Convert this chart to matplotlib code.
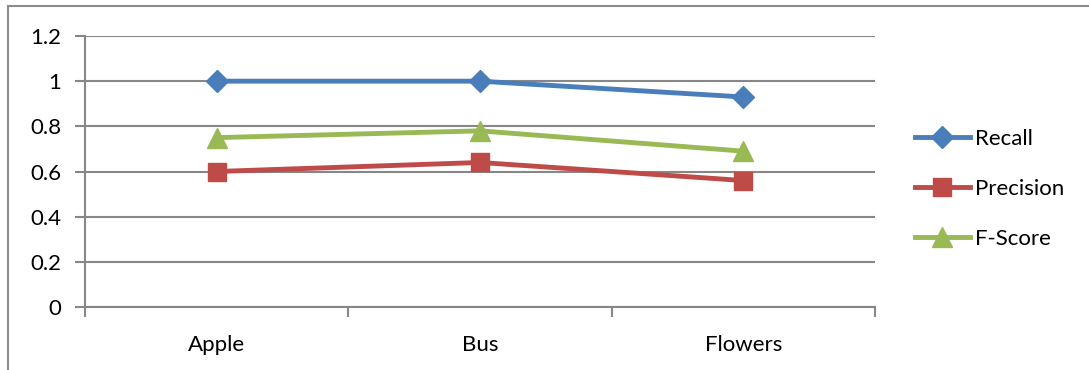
import matplotlib.pyplot as plt
from matplotlib.lines import Line2D

categories = ['Apple', 'Bus', 'Flowers']
recall = [1.0, 1.0, 0.93]
precision = [0.60, 0.64, 0.56]
f_score = [0.75, 0.78, 0.69]

plt.rcParams['font.family'] = ['Lato', 'DejaVu Sans']

fig = plt.figure(figsize=(10.89, 3.70), dpi=100)
ax = fig.add_axes([85 / 1089, 1 - 307 / 370, 790 / 1089, 271 / 370])

x = range(len(categories))
ax.plot(x, recall, color='#4A7EBB', lw=3.5, marker='D', ms=11, label='Recall')
ax.plot(x, precision, color='#BE4B48', lw=3.5, marker='s', ms=13, label='Precision')
ax.plot(x, f_score, color='#98B954', lw=3.5, marker='^', ms=14, label='F-Score')

grid_col = '#878787'
ax.set_xlim(-0.5, 2.5)
ax.set_ylim(0, 1.2)
ax.set_yticks([0, 0.2, 0.4, 0.6, 0.8, 1.0, 1.2])
ax.set_yticklabels(['0', '0.2', '0.4', '0.6', '0.8', '1', '1.2'])
ax.set_xticks(list(x))
ax.set_xticklabels(categories)
ax.set_xticks([-0.5, 0.5, 1.5, 2.5], minor=True)
ax.tick_params(axis='x', which='major', length=0, pad=20, labelsize=16)
ax.tick_params(axis='x', which='minor', length=7, color=grid_col, width=1.5)
ax.tick_params(axis='y', length=7, color=grid_col, width=1.5, pad=10, labelsize=16)
ax.grid(axis='y', color=grid_col, lw=1.5)
ax.set_axisbelow(True)
for side in ['top', 'right']:
    ax.spines[side].set_visible(False)
for side in ['left', 'bottom']:
    ax.spines[side].set_color(grid_col)
    ax.spines[side].set_linewidth(1.5)

ax.legend(loc='center left', bbox_to_anchor=(1.05, 0.435), frameon=False,
          borderaxespad=0, borderpad=0, fontsize=16, handlelength=2.5,
          handletextpad=0.2, labelspacing=1.35)

# chart frame along the top and left edges
fig.add_artist(Line2D([8 / 1089, 1], [1 - 6 / 370, 1 - 6 / 370], color='#8C8C8C', lw=1.5))
fig.add_artist(Line2D([8 / 1089, 8 / 1089], [0, 1 - 6 / 370], color='#8C8C8C', lw=1.5))

fig.savefig('out.png', dpi=100)
